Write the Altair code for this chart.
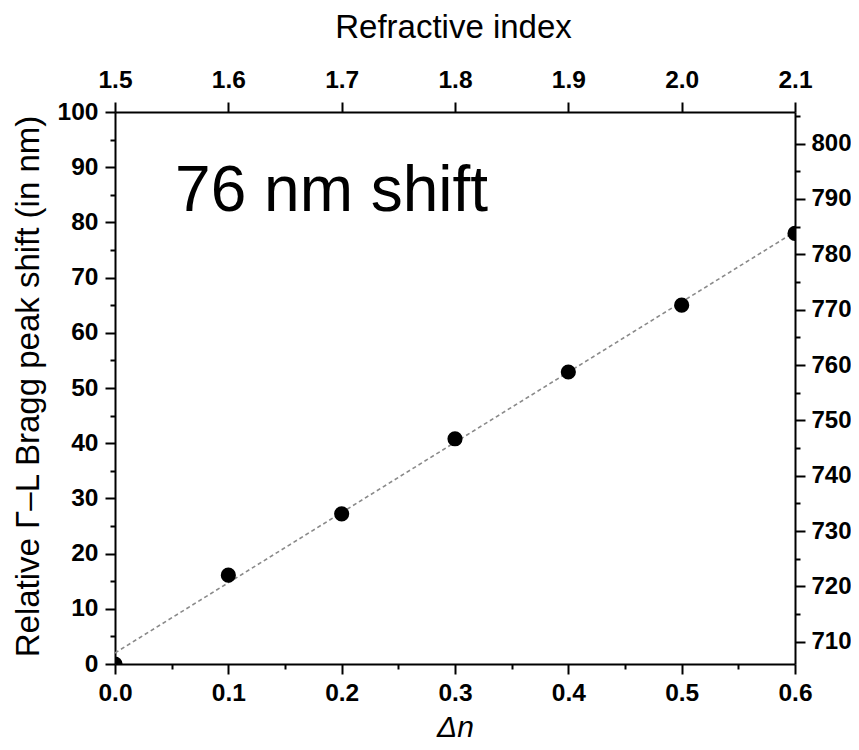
import altair as alt
import pandas as pd

# ---- data ----
delta_n = [0.0, 0.1, 0.2, 0.3, 0.4, 0.5, 0.6]
peak_shift = [0.0, 16.1, 27.2, 40.8, 52.9, 65.0, 78.0]
fit_dn = [0.0, 0.6]
fit_shift = [2.0, 78.3]

bottom_ticks = [0.0, 0.05, 0.1, 0.15, 0.2, 0.25, 0.3, 0.35, 0.4, 0.45, 0.5, 0.55, 0.6]
left_ticks = list(range(0, 101, 5))
top_ticks = [1.5, 1.6, 1.7, 1.8, 1.9, 2.0, 2.1]
right_ticks = list(range(710, 806, 5))

x_domain = [0.0, 0.6]
y_domain = [0, 100]
n_domain = [1.5, 2.1]
wl_domain = [706, 805.7]

annot_dn = [0.053]
annot_shift = [82]
annot_text = ["76 nm shift"]

FONT = "Liberation Sans"

df = pd.DataFrame({"dn": delta_n, "shift": peak_shift})
fit = pd.DataFrame({"dn": fit_dn, "shift": fit_shift})
ann = pd.DataFrame({"dn": annot_dn, "shift": annot_shift, "text": annot_text})
sec = pd.DataFrame({"n": n_domain, "wl": wl_domain})

common_axis = dict(
    grid=False,
    domainColor="black", domainWidth=2,
    tickColor="black", tickWidth=2,
    labelFont=FONT, labelFontWeight="bold", labelColor="black",
    titleFont=FONT, titleFontWeight="normal", titleColor="black",
    labelOverlap=False, labelFlush=False, labelBound=False,
)

x_axis = alt.Axis(
    orient="bottom", values=bottom_ticks, format=".1f",
    labelExpr="round(datum.value*100) % 10 === 0 ? datum.label : ''",
    tickSize={"condition": {"test": "round(datum.value*100) % 10 === 0", "value": 10}, "value": 5},
    labelPadding=7, labelFontSize=24.5,
    title="Δn", titleFontStyle="italic", titleFontSize=30,
    titleX=340, titleY=72, titleBaseline="alphabetic", titleAlign="center",
    **common_axis,
)
y_axis = alt.Axis(
    orient="left", values=left_ticks,
    labelExpr="datum.value % 10 === 0 ? datum.label : ''",
    tickSize={"condition": {"test": "datum.value % 10 === 0", "value": 10}, "value": 5},
    labelPadding=7, labelFontSize=24.5,
    title="Relative Γ–L Bragg peak shift (in nm)", titleFontSize=33,
    titleAngle=270, titleX=-77, titleY=274, titleBaseline="alphabetic", titleAlign="center",
    **common_axis,
)
top_axis = alt.Axis(
    orient="top", values=top_ticks, format=".1f", tickSize=10, labelPadding=10,
    labelFontSize=24.5,
    title="Refractive index", titleFontSize=33,
    titleX=338, titleY=-75, titleBaseline="alphabetic", titleAlign="center",
    **common_axis,
)
right_axis = alt.Axis(
    orient="right", values=right_ticks,
    labelExpr="datum.value % 10 === 0 ? datum.label : ''",
    tickSize={"condition": {"test": "datum.value % 10 === 0", "value": 10}, "value": 5},
    labelPadding=6, labelFontSize=24, title=None,
    **common_axis,
)

X = alt.X("dn:Q", scale=alt.Scale(domain=x_domain, nice=False, zero=False), axis=x_axis)
Y = alt.Y("shift:Q", scale=alt.Scale(domain=y_domain, nice=False, zero=False), axis=y_axis)

line = alt.Chart(fit).mark_line(
    color="#8a8a8a", strokeWidth=1.6, strokeDash=[4, 3], clip=True
).encode(x=X, y=Y)

pts = alt.Chart(df).mark_circle(
    color="black", opacity=1, size=230, clip=True
).encode(x=X, y=Y)

txt = alt.Chart(ann).mark_text(
    font=FONT, fontSize=64, color="black", align="left", baseline="alphabetic"
).encode(x=X, y=Y, text="text:N")

main = alt.layer(line, pts, txt)

secondary = alt.Chart(sec).mark_point(opacity=0).encode(
    x=alt.X("n:Q", scale=alt.Scale(domain=n_domain, nice=False, zero=False), axis=top_axis),
    y=alt.Y("wl:Q", scale=alt.Scale(domain=wl_domain, nice=False, zero=False), axis=right_axis),
)

chart = alt.layer(main, secondary).resolve_scale(
    x="independent", y="independent"
).properties(
    width=680, height=552,
    autosize=alt.AutoSizeParams(type="none"),
    padding={"left": 107, "top": 104, "right": 56, "bottom": 78},
    background="white",
).configure_view(strokeWidth=0)

chart.save("out.html", embed_options={"renderer": "svg", "actions": False})
